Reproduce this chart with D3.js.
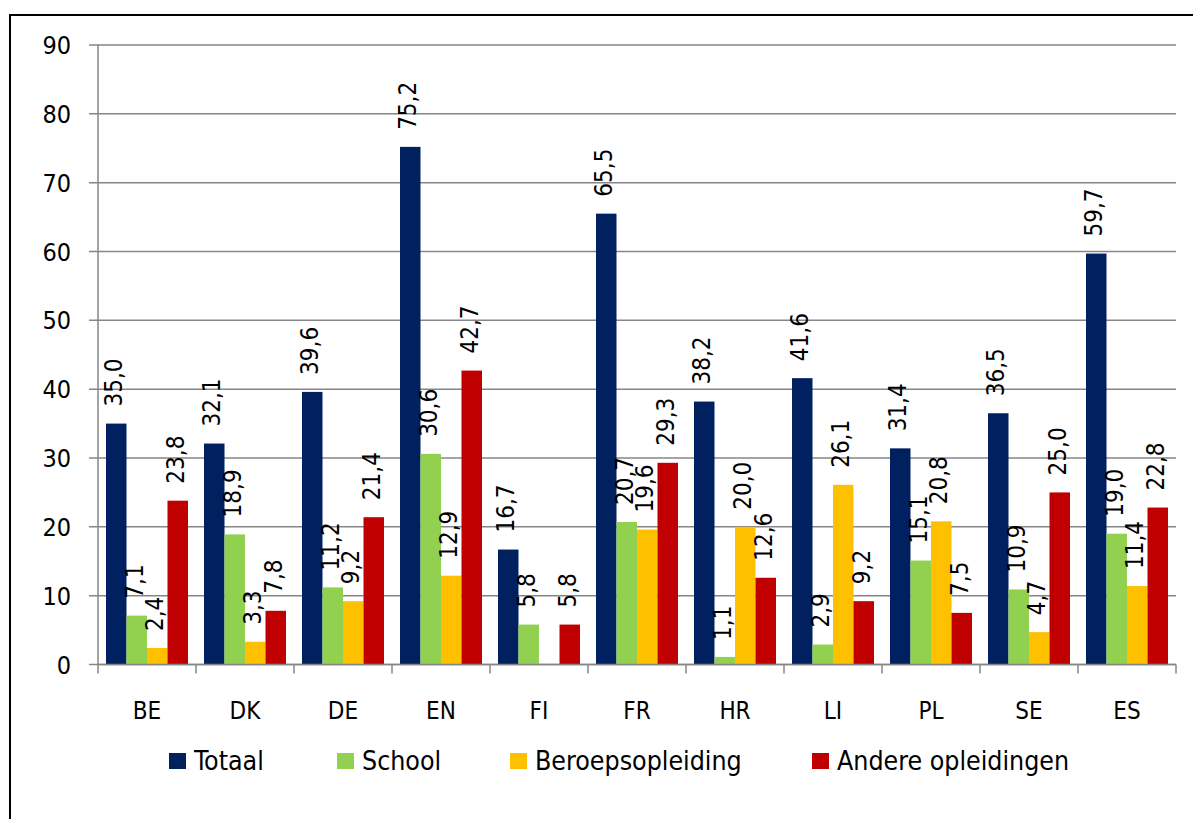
<!DOCTYPE html>
<html>
<head>
<meta charset="utf-8">
<script src="https://cdn.jsdelivr.net/npm/d3@7"></script>
<style>
    body { margin: 0; background: #fff; }
    svg { display: block; font-family: 'DejaVu Sans Condensed', 'DejaVu Sans', sans-serif; font-stretch: condensed; }
</style>
</head>
<body>
<svg id="chart" width="1193" height="819"></svg>
<script>
// === Data ===
const countries = ['BE', 'DK', 'DE', 'EN', 'FI', 'FR', 'HR', 'LI', 'PL', 'SE', 'ES'];
const seriesNames = ['Totaal', 'School', 'Beroepsopleiding', 'Andere opleidingen'];
const totaal = [35.0, 32.1, 39.6, 75.2, 16.7, 65.5, 38.2, 41.6, 31.4, 36.5, 59.7];
const school = [7.1, 18.9, 11.2, 30.6, 5.8, 20.7, 1.1, 2.9, 15.1, 10.9, 19.0];
const beroeps = [2.4, 3.3, 9.2, 12.9, null, 19.6, 20.0, 26.1, 20.8, 4.7, 11.4];
const andere = [23.8, 7.8, 21.4, 42.7, 5.8, 29.3, 12.6, 9.2, 7.5, 25.0, 22.8];
const yTicks = [0, 10, 20, 30, 40, 50, 60, 70, 80, 90];

const colors = ['#002060', '#92D050', '#FFC000', '#C00000'];
const seriesValues = [totaal, school, beroeps, andere];

const svg = d3.select('#chart');
const fmt = d3.formatLocale({ decimal: ',', thousands: '.', grouping: [3], currency: ['€', ''] }).format('.1f');

// Frame
svg.append('rect')
    .attr('x', 10).attr('y', 15)
    .attr('width', 1220).attr('height', 830)
    .attr('fill', 'none')
    .attr('stroke', '#000')
    .attr('stroke-width', 2);

// Scales
const x0 = d3.scaleBand().domain(countries).range([98, 1176]).padding(0);
const x1 = d3.scaleBand().domain(d3.range(4)).range([8, x0.bandwidth() - 8]).padding(0);
const y = d3.scaleLinear().domain([0, 90]).range([664.5, 45]);

// Grid
svg.append('g').selectAll('line')
    .data(yTicks)
    .join('line')
    .attr('x1', 89).attr('x2', 1176)
    .attr('y1', d => y(d)).attr('y2', d => y(d))
    .attr('stroke', '#868686')
    .attr('stroke-width', 1.5);

// Y axis labels
svg.append('g').selectAll('text')
    .data(yTicks)
    .join('text')
    .attr('x', 71)
    .attr('y', d => y(d) + 9)
    .attr('text-anchor', 'end')
    .attr('font-size', 25)
    .attr('fill', '#000')
    .text(d => d);

// Y axis line
svg.append('line')
    .attr('x1', 98).attr('x2', 98)
    .attr('y1', y(90)).attr('y2', y(0))
    .attr('stroke', '#868686').attr('stroke-width', 1.5);

// Bars
const rows = countries.map((c, i) => ({ c, vals: seriesValues.map(s => s[i]) }));
const groups = svg.append('g').selectAll('g')
    .data(rows)
    .join('g')
    .attr('transform', d => `translate(${x0(d.c)},0)`);

groups.selectAll('rect')
    .data(d => d.vals.map((v, k) => ({ v, k })).filter(e => e.v != null))
    .join('rect')
    .attr('x', d => x1(d.k))
    .attr('width', x1.bandwidth())
    .attr('y', d => y(d.v))
    .attr('height', d => y(0) - y(d.v))
    .attr('fill', d => colors[d.k]);

// Data labels (rotated)
groups.selectAll('text')
    .data(d => d.vals.map((v, k) => ({ v, k })).filter(e => e.v != null))
    .join('text')
    .attr('transform', d => `translate(${x1(d.k) + x1.bandwidth() / 2 + 6},${y(d.v) - 17}) rotate(-90)`)
    .attr('font-size', 24)
    .attr('fill', '#000')
    .text(d => fmt(d.v));

// X axis line and ticks
svg.append('line')
    .attr('x1', 98).attr('x2', 1176)
    .attr('y1', y(0)).attr('y2', y(0))
    .attr('stroke', '#868686').attr('stroke-width', 1.5);

svg.append('g').selectAll('line')
    .data(countries.concat(['end']))
    .join('line')
    .attr('x1', d => d === 'end' ? 1176 : x0(d))
    .attr('x2', d => d === 'end' ? 1176 : x0(d))
    .attr('y1', y(0)).attr('y2', y(0) + 9)
    .attr('stroke', '#868686').attr('stroke-width', 1.5);

svg.append('g').selectAll('text')
    .data(countries)
    .join('text')
    .attr('x', d => x0(d) + x0.bandwidth() / 2)
    .attr('y', 719)
    .attr('text-anchor', 'middle')
    .attr('font-size', 24)
    .attr('fill', '#000')
    .text(d => d);

// Legend
const legendX = [169, 337, 510, 812];
const legend = svg.append('g').selectAll('g')
    .data(seriesNames)
    .join('g')
    .attr('transform', (d, i) => `translate(${legendX[i]},753)`);

legend.append('rect')
    .attr('width', 17).attr('height', 16)
    .attr('fill', (d, i) => colors[i]);

legend.append('text')
    .attr('x', 25)
    .attr('y', 16.5)
    .attr('font-size', 26.5)
    .attr('fill', '#000')
    .text(d => d);
</script>
</body>
</html>
